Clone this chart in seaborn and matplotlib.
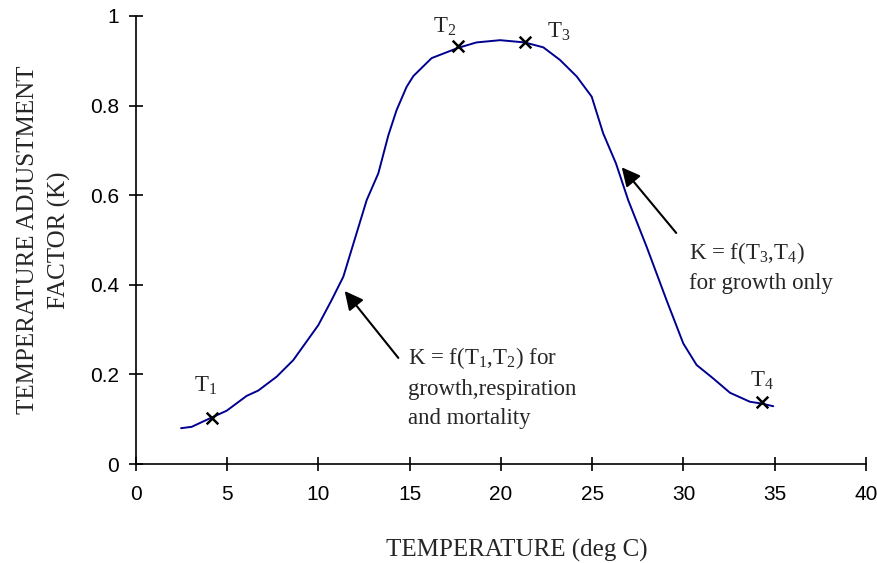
import matplotlib
matplotlib.use("Agg")
import matplotlib.pyplot as plt
import seaborn as sns
import pandas as pd

# Curve data
temp = [2.47, 3.05, 4.05, 4.97, 6.06, 6.70, 7.71, 8.62, 9.99, 10.72, 11.36, 12.64,
        13.28, 13.83, 14.28, 14.83, 15.2, 16.2, 17.66, 18.66, 19.95, 21.3,
        22.32, 23.23, 24.15, 24.97, 25.6, 26.3, 26.97, 27.98, 29.07, 29.99,
        30.72, 31.63, 32.55, 33.64, 34.28, 34.92]
kfac = [0.080, 0.083, 0.102, 0.119, 0.152, 0.164, 0.195, 0.232, 0.310, 0.366, 0.418, 0.589,
        0.649, 0.734, 0.790, 0.842, 0.866, 0.906, 0.929, 0.941, 0.946, 0.941,
        0.930, 0.902, 0.865, 0.820, 0.738, 0.671, 0.589, 0.485, 0.366, 0.269,
        0.221, 0.191, 0.159, 0.139, 0.135, 0.129]

# Marked points T1..T4
pt_names = ["T$_1$", "T$_2$", "T$_3$", "T$_4$"]
pt_x = [4.16, 17.64, 21.3, 34.3]
pt_y = [0.103, 0.933, 0.942, 0.138]
lbl_x = [3.2, 16.3, 22.5, 33.65]
lbl_y = [0.175, 0.975, 0.965, 0.185]

xticks = [0, 5, 10, 15, 20, 25, 30, 35, 40]
yticks = [0, 0.2, 0.4, 0.6, 0.8, 1]
ytick_labels = ["0", "0.2", "0.4", "0.6", "0.8", "1"]

sns.set_theme(style="white")
plt.rcParams['font.family'] = ['Liberation Serif', 'DejaVu Serif']
plt.rcParams['mathtext.fontset'] = 'custom'
plt.rcParams['mathtext.rm'] = 'Liberation Serif'
plt.rcParams['mathtext.it'] = 'Liberation Serif:italic'
plt.rcParams['mathtext.default'] = 'rm'

fig = plt.figure(figsize=(8.78, 5.63), dpi=100)
ax = fig.add_axes([0.1549, 0.1758, 0.9863 - 0.1549, 0.9716 - 0.1758])

df = pd.DataFrame({"T": temp, "K": kfac})
sns.lineplot(data=df, x="T", y="K", ax=ax, color="#000090", lw=1.4, sort=False)
pts = pd.DataFrame({"T": pt_x, "K": pt_y})
sns.scatterplot(data=pts, x="T", y="K", ax=ax, marker="x", color="black", s=70,
                linewidth=1.8, zorder=5)
for n, lx, ly in zip(pt_names, lbl_x, lbl_y):
    ax.text(lx, ly, n, fontsize=16.5, ha="left", va="center")

ax.annotate("", xy=(11.34, 0.391), xytext=(14.47, 0.232),
            arrowprops=dict(arrowstyle="-|>", mutation_scale=28, color="black", lw=1.5))
ax.annotate("", xy=(26.52, 0.667), xytext=(29.7, 0.511),
            arrowprops=dict(arrowstyle="-|>", mutation_scale=28, color="black", lw=1.5))

ax.text(14.9, 0.172, "K = f(T$_1$,T$_2$) for\ngrowth,respiration\nand mortality",
        fontsize=16.5, ha="left", va="center", linespacing=1.48)
ax.text(30.3, 0.440, "K = f(T$_3$,T$_4$)\nfor growth only",
        fontsize=16.5, ha="left", va="center", linespacing=1.48)

ax.set_xlim(0, 40)
ax.set_ylim(0, 1)
ax.set_xticks(xticks)
ax.set_xticklabels([str(v) for v in xticks])
ax.set_yticks(yticks)
ax.set_yticklabels(ytick_labels)
ax.tick_params(axis="both", direction="inout", length=10, width=1.2, colors="black",
               labelsize=15, bottom=True, left=True, labelfontfamily="Liberation Sans")
ax.tick_params(axis="x", pad=10)
ax.tick_params(axis="y", pad=7)
for s in ["top", "right"]:
    ax.spines[s].set_visible(False)
for s in ["left", "bottom"]:
    ax.spines[s].set_color("black")
    ax.spines[s].set_linewidth(1.2)

ax.set_xlabel("TEMPERATURE (deg C)", fontsize=18)
ax.xaxis.set_label_coords(0.521, -0.168)
ax.set_ylabel("TEMPERATURE ADJUSTMENT\nFACTOR (K)", fontsize=18, linespacing=1.5)
ax.yaxis.set_label_coords(-0.089, 0.5)

fig.savefig("out.png", dpi=100)
